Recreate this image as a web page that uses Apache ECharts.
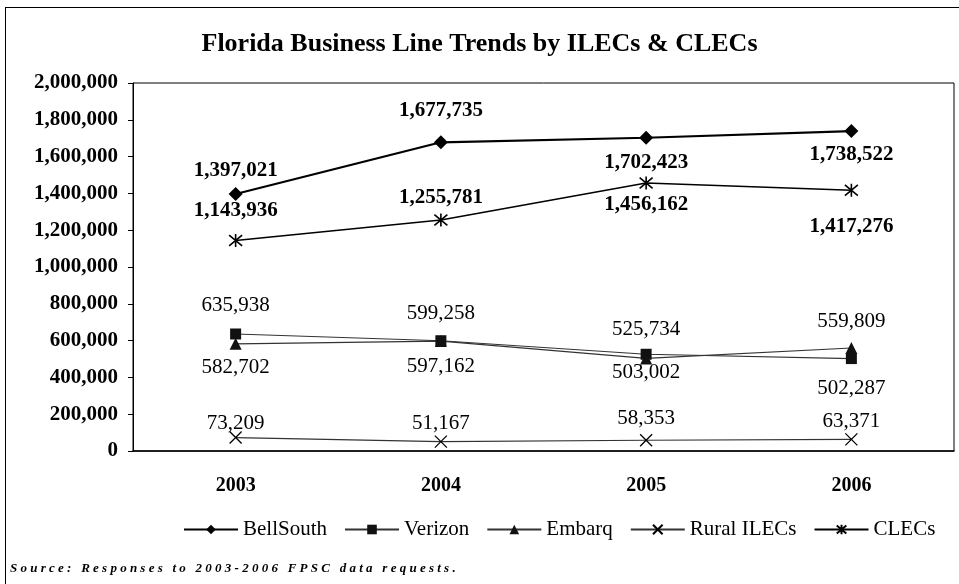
<!DOCTYPE html>
<html>
<head>
<meta charset="utf-8">
<script src="https://cdn.jsdelivr.net/npm/echarts@6/dist/echarts.min.js"></script>
<style>
  html, body { margin: 0; padding: 0; background: #fff; }
  .frame {
    position: absolute; left: 5px; top: 7px; width: 960px; height: 590px;
    border-top: 1px solid #000; border-left: 1px solid #000;
  }
  #chart { position: absolute; left: 0; top: 0; width: 959px; height: 584px; }
</style>
</head>
<body>
<div class="frame"></div>
<div id="chart"></div>
<script>
const years = ['2003', '2004', '2005', '2006']
const bellSouth = [1397021, 1677735, 1702423, 1738522]
const verizon = [635938, 599258, 525734, 502287]
const embarq = [582702, 597162, 503002, 559809]
const ruralIlecs = [73209, 51167, 58353, 63371]
const clecs = [1143936, 1255781, 1456162, 1417276]

// vertical label offsets (px) for each point, negative = above
const bellSouthDy = [-23, -32, 25, 23]
const verizonDy = [-29, -27, -25, 30]
const embarqDy = [24, 25, 14, -27]
const ruralDy = [-14, -18, -22, -18]
const clecsDy = [-30, -22, 22, 36]

const serif = 'Liberation Serif'
const fmt = v => v.toLocaleString('en-US')

const asterisk = 'path://M0 0 L10 10 M10 0 L0 10 M5 -1 L5 11'
const cross = 'path://M0 0 L10 10 M10 0 L0 10'

function points (values, dys, bold) {
  return values.map((v, i) => ({
    value: v,
    label: {
      show: true,
      position: 'inside',
      offset: [0, dys[i]],
      formatter: p => fmt(p.value),
      fontFamily: serif,
      fontSize: 21,
      fontWeight: bold ? 'bold' : 'normal',
      color: '#000'
    }
  }))
}

const chart = echarts.init(document.getElementById('chart'))
chart.setOption({
  animation: false,
  textStyle: { fontFamily: serif },
  title: {
    text: 'Florida Business Line Trends by ILECs & CLECs',
    left: 'center',
    top: 26,
    textStyle: { fontFamily: serif, fontSize: 26, fontWeight: 'bold', color: '#000' }
  },
  grid: {
    left: 133, right: 5, top: 83, bottom: 133,
    show: true, borderColor: '#000', borderWidth: 1
  },
  legend: {
    left: 183,
    top: 519,
    padding: 0,
    itemWidth: 54,
    itemHeight: 12,
    itemGap: 17,
    textStyle: { fontFamily: serif, fontSize: 21, color: '#000' },
    data: ['BellSouth', 'Verizon', 'Embarq', 'Rural ILECs', 'CLECs']
  },
  xAxis: {
    type: 'category',
    data: years,
    axisLine: { lineStyle: { color: '#000', width: 1.5 } },
    axisTick: { length: 5, lineStyle: { color: '#000' } },
    axisLabel: { margin: 25, fontFamily: serif, fontSize: 20, fontWeight: 'bold', color: '#000' }
  },
  yAxis: {
    type: 'value',
    min: 0,
    max: 2000000,
    interval: 200000,
    splitLine: { show: false },
    axisLine: { show: true, lineStyle: { color: '#000' } },
    axisTick: { show: true, length: 5, lineStyle: { color: '#000' } },
    axisLabel: {
      margin: 15, fontFamily: serif, fontSize: 21, fontWeight: 'bold', color: '#000',
      formatter: v => fmt(v)
    }
  },
  series: [
    {
      name: 'BellSouth', type: 'line', data: points(bellSouth, bellSouthDy, true),
      symbol: 'diamond', symbolSize: 14,
      itemStyle: { color: '#000' }, lineStyle: { color: '#000', width: 2.2 }
    },
    {
      name: 'Verizon', type: 'line', data: points(verizon, verizonDy, false),
      symbol: 'rect', symbolSize: 11,
      itemStyle: { color: '#111' }, lineStyle: { color: '#333', width: 1.2 }
    },
    {
      name: 'Embarq', type: 'line', data: points(embarq, embarqDy, false),
      symbol: 'triangle', symbolSize: 12,
      itemStyle: { color: '#111' }, lineStyle: { color: '#333', width: 1.2 }
    },
    {
      name: 'Rural ILECs', type: 'line', data: points(ruralIlecs, ruralDy, false),
      symbol: cross, symbolSize: 12,
      itemStyle: { color: '#000', borderColor: '#000', borderWidth: 1.3 },
      lineStyle: { color: '#333', width: 1.2 }
    },
    {
      name: 'CLECs', type: 'line', data: points(clecs, clecsDy, true),
      symbol: asterisk, symbolSize: 13,
      itemStyle: { color: '#000', borderColor: '#000', borderWidth: 1.6 },
      lineStyle: { color: '#000', width: 1.6 }
    }
  ],
  graphic: [{
    type: 'text',
    left: 10,
    top: 562,
    style: {
      text: 'S o u r c e :   R e s p o n s e s   t o   2 0 0 3 - 2 0 0 6   F P S C   d a t a   r e q u e s t s .',
      fontFamily: serif, fontSize: 13, fontStyle: 'italic', fontWeight: 'bold', fill: '#000'
    }
  }]
})
</script>
</body>
</html>
